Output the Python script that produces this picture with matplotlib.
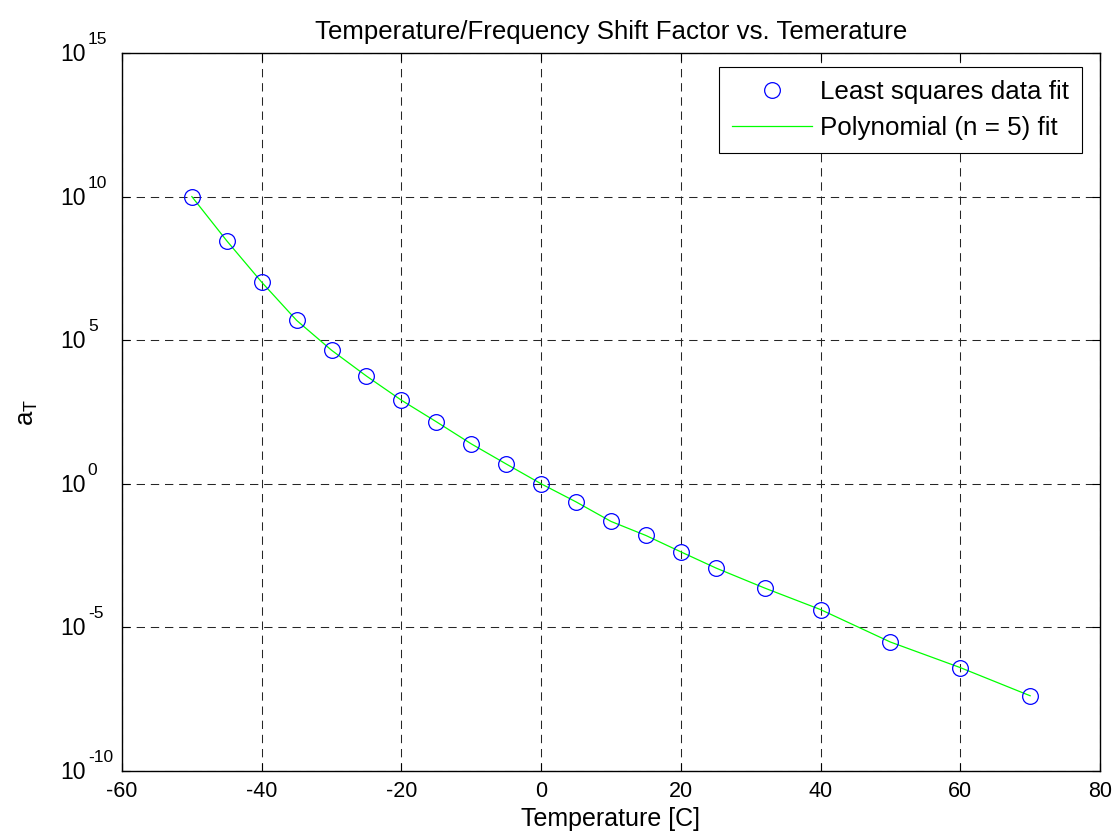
import matplotlib
matplotlib.use("Agg")
import matplotlib.pyplot as plt
from matplotlib.ticker import FixedLocator, NullLocator

plt.rcParams['font.family'] = ['Liberation Sans', 'DejaVu Sans']
plt.rcParams['mathtext.default'] = 'regular'
plt.rcParams['lines.scale_dashes'] = False
plt.rcParams['axes.unicode_minus'] = False

# Temperatures [C] and log10(a_T)
temps = [-50, -45, -40, -35, -30, -25, -20, -15, -10, -5, 0,
         5, 10, 15, 20, 25, 32, 40, 50, 60, 70]
log_aT = [10.0, 8.46, 7.02, 5.69, 4.65, 3.75, 2.91, 2.16, 1.39, 0.69, 0.0,
          -0.63, -1.31, -1.80, -2.37, -2.93, -3.63, -4.38, -5.51, -6.40, -7.38]
aT = [10 ** v for v in log_aT]

# Polynomial fit curve (follows the markers)
fit_temps = temps
fit_aT = aT

x_ticks = [-60, -40, -20, 0, 20, 40, 60, 80]
y_exponents = [-10, -5, 0, 5, 10, 15]
y_ticks = [10.0 ** e for e in y_exponents]

fig = plt.figure(figsize=(11.17, 8.39), dpi=100)
ax = fig.add_axes([0.10922, 0.08105, 0.87556, 0.85578])

ax.semilogy(temps, aT, linestyle='none', marker='o', markersize=11.3,
            markerfacecolor='none', markeredgecolor='#0000ff', markeredgewidth=0.9,
            label='Least squares data fit', zorder=3)
ax.semilogy(fit_temps, fit_aT, color='#00ff00', linewidth=0.9,
            label='Polynomial (n = 5) fit', zorder=2)

ax.set_xlim(-60, 80)
ax.set_ylim(1e-10, 1e15)
ax.xaxis.set_major_locator(FixedLocator(x_ticks))
ax.yaxis.set_major_locator(FixedLocator(y_ticks))
ax.yaxis.set_minor_locator(NullLocator())

ax.grid(True, which='major', color='#262626', linestyle=(0, (6, 4.2)), linewidth=0.75)
ax.tick_params(direction='in', length=6, width=0.8, labelsize=15.5,
               top=True, right=True, pad=7)
ax.tick_params(axis='y', labelleft=False)
for s in ax.spines.values():
    s.set_linewidth(1.0)

# y tick labels: "10" with a raised exponent
ytrans = ax.get_yaxis_transform()
for e, v in zip(y_exponents, y_ticks):
    ax.annotate('10', xy=(0, v), xycoords=ytrans, xytext=(-26.2, -5.8),
                textcoords='offset points', ha='right', va='baseline',
                fontsize=16.5, annotation_clip=False)
    ax.annotate(str(e), xy=(0, v), xycoords=ytrans, xytext=(-24.6, 6.5),
                textcoords='offset points', ha='left', va='baseline',
                fontsize=12.5, annotation_clip=False)

ax.set_xlabel('Temperature [C]', fontsize=18, labelpad=4)
ax.set_ylabel('$a_T$', fontsize=18.5)
ax.yaxis.set_label_coords(-0.0838, 0.5)
ax.set_title('Temperature/Frequency Shift Factor vs. Temerature', fontsize=18.6, pad=10)

leg = ax.legend(loc='upper right', bbox_to_anchor=(1082 / 1117, 1 - 67 / 839),
                bbox_transform=fig.transFigure, borderaxespad=0,
                fontsize=18.7, frameon=True, fancybox=False,
                edgecolor='black', framealpha=1,
                handlelength=3.1, handletextpad=0.3, borderpad=0.5,
                labelspacing=0.45)
leg.get_frame().set_linewidth(0.8)

fig.savefig('out.png', dpi=100)
